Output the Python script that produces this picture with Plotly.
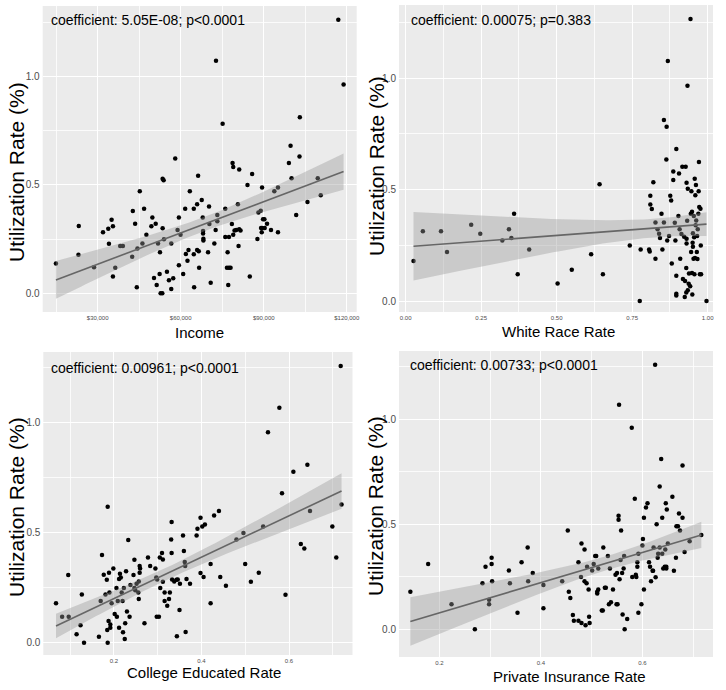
import numpy as np
import plotly.graph_objects as go

# Panel 1: income
inc_x = [14910, 23050, 23170, 28680, 31920, 33830, 34070, 35030, 35510, 35510,
         36350, 38140, 39100, 42460, 42690, 43530, 44130, 44370, 45210, 46170,
         46770, 47600, 49400, 49760, 50360, 50960, 51320, 51800, 52390, 52510,
         52750, 53350, 53470, 53470, 53830, 53950, 55030, 55750, 56590, 56590,
         57300, 58020, 58860, 59340, 59340, 59940, 60900, 61620, 61860, 62450,
         62810, 63290, 64730, 64730, 64850, 65930, 65930, 66290, 66530, 66650,
         67600, 67960, 68080, 68080, 68200, 68200, 69880, 70240, 70360, 70840,
         72160, 72630, 72750, 73230, 73230, 75150, 76110, 76110, 76710, 76950,
         77190, 77430, 77430, 78020, 78500, 78740, 78980, 78980, 79460, 80060,
         80660, 80900, 81140, 81140, 81620, 84130, 84970, 85810, 87720, 88080,
         88920, 89040, 89280, 89400, 89400, 89760, 90240, 90360, 91200, 92630,
         93830, 95150, 95150, 99100, 99700, 100060, 101740, 102930, 103050, 105810,
         109520, 110600, 116950, 118860]
inc_y = [0.138, 0.178, 0.310, 0.120, 0.281, 0.298, 0.229, 0.339, 0.309, 0.078,
         0.118, 0.218, 0.218, 0.169, 0.379, 0.321, 0.028, 0.207, 0.470, 0.230,
         0.390, 0.270, 0.309, 0.350, 0.071, 0.321, 0.038, 0.230, 0.089, 0.189,
         0.000, 0.000, 0.300, 0.528, 0.521, 0.249, 0.100, 0.060, 0.020, 0.230,
         0.069, 0.621, 0.292, 0.350, 0.129, 0.270, 0.089, 0.390, 0.181, 0.150,
         0.200, 0.470, 0.390, 0.180, 0.028, 0.410, 0.200, 0.542, 0.194, 0.118,
         0.430, 0.350, 0.287, 0.276, 0.252, 0.243, 0.189, 0.400, 0.320, 0.049,
         0.230, 0.292, 1.072, 0.361, 0.332, 0.782, 0.390, 0.260, 0.118, 0.189,
         0.038, 0.260, 0.118, 0.118, 0.320, 0.600, 0.582, 0.270, 0.289, 0.292,
         0.410, 0.218, 0.571, 0.295, 0.289, 0.499, 0.078, 0.550, 0.250, 0.372,
         0.381, 0.301, 0.281, 0.488, 0.301, 0.341, 0.341, 0.301, 0.321, 0.292,
         0.470, 0.281, 0.488, 0.600, 0.680, 0.530, 0.361, 0.631, 0.811, 0.421,
         0.530, 0.452, 1.261, 0.962]

# Panel 2: white race rate
white_x = [0.026, 0.057, 0.117, 0.137, 0.217, 0.247, 0.320, 0.342, 0.350, 0.359,
           0.371, 0.409, 0.503, 0.550, 0.614, 0.642, 0.653, 0.742, 0.775, 0.778,
           0.806, 0.808, 0.810, 0.810, 0.815, 0.820, 0.827, 0.827, 0.834, 0.839,
           0.842, 0.847, 0.850, 0.855, 0.855, 0.863, 0.864, 0.866, 0.868, 0.872,
           0.876, 0.879, 0.881, 0.886, 0.886, 0.891, 0.893, 0.896, 0.896, 0.896,
           0.896, 0.903, 0.905, 0.907, 0.909, 0.913, 0.916, 0.918, 0.922, 0.924,
           0.925, 0.927, 0.929, 0.929, 0.930, 0.930, 0.930, 0.932, 0.933, 0.934,
           0.934, 0.937, 0.938, 0.942, 0.943, 0.944, 0.945, 0.946, 0.948, 0.948,
           0.949, 0.950, 0.951, 0.951, 0.953, 0.954, 0.955, 0.956, 0.957, 0.958,
           0.959, 0.960, 0.961, 0.962, 0.964, 0.965, 0.966, 0.967, 0.969, 0.970,
           0.971, 0.972, 0.974, 0.976, 0.977, 0.978, 0.996]
white_y = [0.180, 0.313, 0.313, 0.220, 0.343, 0.302, 0.272, 0.322, 0.283, 0.392,
           0.120, 0.231, 0.079, 0.141, 0.210, 0.524, 0.120, 0.250, 0.000, 0.231,
           0.231, 0.223, 0.473, 0.433, 0.413, 0.533, 0.353, 0.190, 0.322, 0.302,
           0.283, 0.392, 0.231, 0.353, 0.813, 0.635, 0.783, 0.272, 1.078, 0.292,
           0.473, 0.452, 0.169, 0.582, 0.543, 0.352, 0.272, 0.683, 0.114, 0.033,
           0.025, 0.382, 0.573, 0.322, 0.190, 0.301, 0.603, 0.099, 0.289, 0.018,
           0.090, 0.603, 0.039, 0.148, 0.259, 0.280, 0.531, 0.361, 0.967, 0.504,
           0.049, 0.078, 0.124, 0.067, 1.266, 0.392, 0.220, 0.493, 0.401, 0.126,
           0.030, 0.262, 0.244, 0.304, 0.190, 0.382, 0.286, 0.121, 0.549, 0.193,
           0.475, 0.340, 0.521, 0.362, 0.220, 0.292, 0.189, 0.322, 0.392, 0.493,
           0.624, 0.422, 0.120, 0.415, 0.250, 0.120, 0.000]

# Panel 3: college educated rate
college_x = [0.068, 0.082, 0.097, 0.096, 0.115, 0.124, 0.127, 0.132, 0.166, 0.170,
             0.173, 0.177, 0.181, 0.184, 0.186, 0.185, 0.186, 0.188, 0.189, 0.190,
             0.192, 0.192, 0.195, 0.199, 0.202, 0.206, 0.207, 0.209, 0.212, 0.212,
             0.214, 0.216, 0.218, 0.220, 0.221, 0.223, 0.225, 0.226, 0.228, 0.230,
             0.233, 0.236, 0.238, 0.245, 0.247, 0.247, 0.249, 0.252, 0.256, 0.257,
             0.257, 0.259, 0.259, 0.260, 0.270, 0.278, 0.283, 0.295, 0.297, 0.299,
             0.298, 0.303, 0.305, 0.306, 0.310, 0.312, 0.312, 0.316, 0.316, 0.322,
             0.326, 0.328, 0.331, 0.332, 0.332, 0.333, 0.338, 0.343, 0.344, 0.346,
             0.350, 0.351, 0.358, 0.360, 0.362, 0.363, 0.364, 0.366, 0.374, 0.389,
             0.391, 0.398, 0.398, 0.402, 0.405, 0.408, 0.421, 0.421, 0.429, 0.440,
             0.443, 0.456, 0.480, 0.496, 0.500, 0.513, 0.531, 0.541, 0.552, 0.578,
             0.584, 0.592, 0.610, 0.627, 0.635, 0.642, 0.648, 0.699, 0.708, 0.718,
             0.720]
college_y = [0.179, 0.118, 0.118, 0.307, 0.038, 0.079, 0.219, 0.000, 0.027, 0.189,
             0.398, 0.309, 0.219, 0.286, 0.617, 0.057, 0.000, 0.098, 0.318, 0.228,
             0.068, 0.083, 0.179, 0.337, 0.130, 0.248, 0.118, 0.189, 0.289, 0.068,
             0.313, 0.296, 0.228, 0.189, 0.047, 0.248, 0.017, 0.088, 0.324, 0.141,
             0.466, 0.118, 0.262, 0.307, 0.248, 0.377, 0.238, 0.268, 0.228, 0.198,
             0.278, 0.318, 0.348, 0.337, 0.088, 0.387, 0.348, 0.337, 0.296, 0.287,
             0.118, 0.118, 0.387, 0.248, 0.407, 0.277, 0.378, 0.189, 0.228, 0.168,
             0.198, 0.228, 0.469, 0.548, 0.407, 0.287, 0.278, 0.286, 0.029, 0.287,
             0.148, 0.268, 0.487, 0.416, 0.366, 0.348, 0.048, 0.289, 0.268, 0.487,
             0.517, 0.567, 0.316, 0.528, 0.298, 0.537, 0.357, 0.179, 0.578, 0.598,
             0.298, 0.259, 0.469, 0.498, 0.357, 0.277, 0.318, 0.528, 0.956, 1.067,
             0.678, 0.218, 0.776, 0.448, 0.428, 0.808, 0.598, 0.528, 0.387, 1.256,
             0.628]

# Panel 4: private insurance rate
private_x = [0.143, 0.178, 0.224, 0.270, 0.285, 0.291, 0.298, 0.298, 0.303, 0.303,
             0.304, 0.337, 0.339, 0.354, 0.362, 0.374, 0.375, 0.384, 0.405, 0.405,
             0.442, 0.453, 0.455, 0.458, 0.463, 0.465, 0.474, 0.474, 0.479, 0.480,
             0.480, 0.486, 0.486, 0.488, 0.490, 0.491, 0.494, 0.495, 0.496, 0.501,
             0.504, 0.507, 0.509, 0.511, 0.511, 0.513, 0.513, 0.520, 0.522, 0.523,
             0.526, 0.528, 0.532, 0.534, 0.536, 0.538, 0.542, 0.547, 0.549, 0.550,
             0.551, 0.553, 0.553, 0.554, 0.555, 0.557, 0.558, 0.560, 0.561, 0.563,
             0.564, 0.565, 0.570, 0.579, 0.580, 0.585, 0.587, 0.588, 0.590, 0.590,
             0.592, 0.592, 0.598, 0.600, 0.601, 0.603, 0.603, 0.607, 0.610, 0.613,
             0.615, 0.617, 0.620, 0.621, 0.622, 0.625, 0.626, 0.628, 0.630, 0.631,
             0.634, 0.634, 0.637, 0.639, 0.639, 0.641, 0.644, 0.645, 0.646, 0.647,
             0.647, 0.648, 0.650, 0.659, 0.662, 0.666, 0.667, 0.670, 0.672, 0.674,
             0.679, 0.679, 0.683, 0.693, 0.716]
private_y = [0.178, 0.310, 0.119, 0.000, 0.219, 0.298, 0.140, 0.119, 0.340, 0.310,
             0.229, 0.279, 0.219, 0.079, 0.319, 0.389, 0.229, 0.268, 0.210, 0.100,
             0.229, 0.470, 0.178, 0.149, 0.068, 0.040, 0.040, 0.319, 0.249, 0.408,
             0.030, 0.379, 0.229, 0.019, 0.219, 0.298, 0.189, 0.059, 0.030, 0.279,
             0.310, 0.349, 0.349, 0.178, 0.170, 0.189, 0.289, 0.089, 0.089, 0.389,
             0.198, 0.198, 0.349, 0.119, 0.289, 0.129, 0.189, 0.259, 0.119, 0.268,
             0.119, 0.540, 0.521, 1.068, 0.238, 0.329, 0.470, 0.268, 0.070, 0.289,
             0.349, 0.000, 0.049, 0.959, 0.249, 0.621, 0.259, 0.249, 0.319, 0.298,
             0.359, 0.079, 0.119, 0.398, 0.430, 0.189, 0.530, 0.579, 0.600, 0.319,
             0.298, 0.229, 0.278, 0.278, 0.389, 1.259, 0.248, 0.500, 0.340, 0.359,
             0.679, 0.389, 0.810, 0.359, 0.530, 0.289, 0.298, 0.379, 0.600, 0.298,
             0.289, 0.570, 0.408, 0.630, 0.278, 0.340, 0.490, 0.490, 0.551, 0.470,
             0.530, 0.779, 0.368, 0.419, 0.449]

notes = ["coefficient: 5.05E-08; p<0.0001",
         "coefficient: 0.00075; p=0.383",
         "coefficient: 0.00961; p<0.0001",
         "coefficient: 0.00733; p<0.0001"]
x_titles = ["Income", "White Race Rate", "College Educated Rate", "Private Insurance Rate"]
y_title = "Utilization Rate (%)"

W, H = 726, 690
FONT = "Liberation Sans, Arial, sans-serif"

panels = [
    dict(x=inc_x, y=inc_y,
         box=(42.7, 356.7, 6, 312), xr=[10130, 123600], yr=[-0.086, 1.324],
         ticks=[30000, 60000, 90000, 120000],
         labels=["$30,000", "$60,000", "$90,000", "$120,000"],
         minor=[15000, 45000, 75000, 105000],
         note_at=(49, 20), xt_at=(199, 332), yt_at=(16, 172)),
    dict(x=white_x, y=white_y,
         box=(399, 713, 5, 312), xr=[-0.022, 1.0175], yr=[-0.049, 1.329],
         ticks=[0, 0.25, 0.5, 0.75, 1.0],
         labels=["0.00", "0.25", "0.50", "0.75", "1.00"],
         minor=[0.125, 0.375, 0.625, 0.875],
         note_at=(409, 20), xt_at=(558, 331), yt_at=(376, 166)),
    dict(x=college_x, y=college_y,
         box=(43.3, 352.5, 352, 655), xr=[0.039, 0.745], yr=[-0.056, 1.32],
         ticks=[0.2, 0.4, 0.6], labels=["0.2", "0.4", "0.6"],
         minor=[0.1, 0.3, 0.5, 0.7],
         note_at=(49, 368), xt_at=(204, 672), yt_at=(16, 507)),
    dict(x=private_x, y=private_y,
         box=(399, 713, 351, 657), xr=[0.1206, 0.739], yr=[-0.132, 1.324],
         ticks=[0.2, 0.4, 0.6], labels=["0.2", "0.4", "0.6"],
         minor=[0.3, 0.5, 0.7],
         note_at=(408, 365), xt_at=(569, 676), yt_at=(376, 506)),
]


def lm_band(x, y, t=1.98):
    # ordinary least squares fit with a 95% confidence band, like geom_smooth(method="lm")
    x = np.asarray(x, float)
    y = np.asarray(y, float)
    n = len(x)
    b, a = np.polyfit(x, y, 1)
    resid = y - (a + b * x)
    s = np.sqrt(np.sum(resid ** 2) / (n - 2))
    sxx = np.sum((x - x.mean()) ** 2)
    xs = np.linspace(x.min(), x.max(), 80)
    fit = a + b * xs
    se = s * np.sqrt(1 / n + (xs - x.mean()) ** 2 / sxx)
    return xs, fit, fit - t * se, fit + t * se


fig = go.Figure()
annotations = []
layout_axes = {}

for i, p in enumerate(panels, start=1):
    xa = "x" if i == 1 else f"x{i}"
    ya = "y" if i == 1 else f"y{i}"

    fig.add_trace(go.Scatter(x=p["x"], y=p["y"], mode="markers", xaxis=xa, yaxis=ya,
                             marker=dict(color="black", size=4.5), showlegend=False,
                             hoverinfo="skip"))

    xs, fit, lo, hi = lm_band(p["x"], p["y"])
    fig.add_trace(go.Scatter(x=np.concatenate([xs, xs[::-1]]),
                             y=np.concatenate([hi, lo[::-1]]),
                             fill="toself", fillcolor="rgba(153,153,153,0.4)",
                             line=dict(width=0), mode="lines", xaxis=xa, yaxis=ya,
                             showlegend=False, hoverinfo="skip"))
    fig.add_trace(go.Scatter(x=xs, y=fit, mode="lines", xaxis=xa, yaxis=ya,
                             line=dict(color="#666666", width=1.6), showlegend=False,
                             hoverinfo="skip"))

    x0, x1, y0, y1 = p["box"]
    layout_axes["xaxis" if i == 1 else f"xaxis{i}"] = dict(
        domain=[x0 / W, x1 / W], range=p["xr"], anchor=ya, automargin=False,
        tickmode="array", tickvals=p["ticks"], ticktext=p["labels"],
        tickfont=dict(size=6, color="#4D4D4D"), ticklabelstandoff=1,
        showgrid=True, gridcolor="white", gridwidth=1.1,
        minor=dict(tickmode="array", tickvals=p["minor"], showgrid=True,
                   gridcolor="rgba(255,255,255,0.8)", gridwidth=0.5),
        zeroline=False, showline=False, ticks="", fixedrange=True)
    layout_axes["yaxis" if i == 1 else f"yaxis{i}"] = dict(
        domain=[1 - y1 / H, 1 - y0 / H], range=p["yr"], anchor=xa, automargin=False,
        tickmode="array", tickvals=[0, 0.5, 1.0], ticktext=["0.0", "0.5", "1.0"],
        tickfont=dict(size=10, color="#4D4D4D"), ticklabelstandoff=2,
        showgrid=True, gridcolor="white", gridwidth=1.1,
        minor=dict(tickmode="array", tickvals=[-0.25, 0.25, 0.75, 1.25], showgrid=True,
                   gridcolor="rgba(255,255,255,0.8)", gridwidth=0.5),
        zeroline=False, showline=False, ticks="", fixedrange=True)

    nx, ny = p["note_at"]
    annotations.append(dict(text=notes[i - 1], x=nx / W, y=1 - ny / H, xref="paper",
                            yref="paper", xanchor="left", yanchor="middle",
                            showarrow=False, font=dict(size=14, color="black")))
    tx, ty = p["xt_at"]
    annotations.append(dict(text=x_titles[i - 1], x=tx / W, y=1 - ty / H, xref="paper",
                            yref="paper", xanchor="center", yanchor="middle",
                            showarrow=False, font=dict(size=15, color="black")))
    yx, yy = p["yt_at"]
    annotations.append(dict(text=y_title, x=yx / W, y=1 - yy / H, xref="paper",
                            yref="paper", xanchor="center", yanchor="middle",
                            textangle=-90, showarrow=False,
                            font=dict(size=21, color="black")))

fig.update_layout(
    width=W, height=H,
    margin=dict(l=0, r=0, t=0, b=0),
    paper_bgcolor="white", plot_bgcolor="#EBEBEB",
    font=dict(family=FONT),
    annotations=annotations,
    **layout_axes,
)

# drop the browser's default 8px page margin so the figure sits at the window corner
fig.write_html("out.html", config={"displayModeBar": False},
               post_script="document.body.style.margin = '0';")
